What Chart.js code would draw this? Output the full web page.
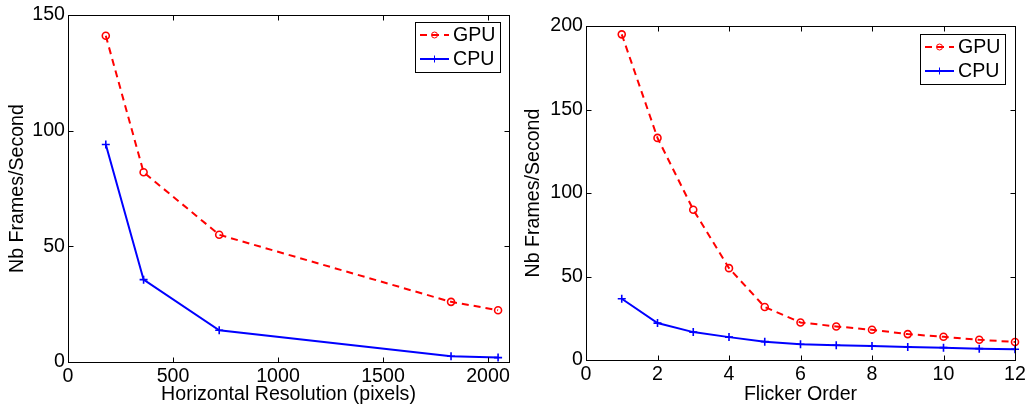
<!DOCTYPE html>
<html>
<head>
<meta charset="utf-8">
<script src="https://cdn.jsdelivr.net/npm/chart.js@4.4.1/dist/chart.umd.min.js"></script>
<style>
body { margin: 0; background: #fff; }
#wrap { display: flex; width: 1030px; height: 409px; }
canvas { display: block; }
</style>
</head>
<body>
<div id="wrap">
  <canvas id="resChart" width="520" height="409"></canvas>
  <canvas id="orderChart" width="510" height="409"></canvas>
</div>
<script>
// left plot: fps vs horizontal resolution
const resX = [180, 360, 720, 1824, 2048]
const resGpu = [141, 82, 55, 26, 22.4]
const resCpu = [94, 35.6, 13.7, 2.5, 1.9]
const resXTicks = [0, 500, 1000, 1500, 2000]
const resYTicks = [0, 50, 100, 150]

// right plot: fps vs flicker order
const orderX = [1, 2, 3, 4, 5, 6, 7, 8, 9, 10, 11, 12]
const orderGpu = [195, 133, 90, 55, 31.7, 22.5, 20.1, 18.1, 15.5, 13.9, 12.1, 10.8]
const orderCpu = [36.7, 22.1, 16.7, 13.7, 11, 9.4, 8.8, 8.4, 7.8, 7.4, 6.8, 6.4]
const orderXTicks = [0, 2, 4, 6, 8, 10, 12]
const orderYTicks = [0, 50, 100, 150, 200]

const FONT = '"Liberation Sans", Arial, sans-serif'
const FSIZE = 19.6
Chart.defaults.color = '#000'
Chart.defaults.font.family = FONT

const toPoints = (xs, ys) => xs.map((x, i) => ({ x: x, y: ys[i] }))

// matlab style box with inward ticks on all 4 sides
const boxTicks = {
  id: 'boxTicks',
  afterDatasetsDraw(chart) {
    const { ctx, chartArea: a, scales } = chart
    const L = Math.round(a.left) + 0.5, R = Math.round(a.right) + 0.5
    const T = Math.round(a.top) + 0.5, B = Math.round(a.bottom) + 0.5
    const len = 5
    ctx.save()
    ctx.strokeStyle = '#000'
    ctx.lineWidth = 1
    ctx.beginPath()
    scales.x.ticks.forEach(t => {
      const px = Math.round(scales.x.getPixelForValue(t.value)) + 0.5
      ctx.moveTo(px, B); ctx.lineTo(px, B - len)
      ctx.moveTo(px, T); ctx.lineTo(px, T + len)
    })
    scales.y.ticks.forEach(t => {
      const py = Math.round(scales.y.getPixelForValue(t.value)) + 0.5
      ctx.moveTo(L, py); ctx.lineTo(L + len, py)
      ctx.moveTo(R, py); ctx.lineTo(R - len, py)
    })
    ctx.stroke()
    ctx.strokeRect(L, T, R - L, B - T)
    ctx.restore()
  }
}

const boxLegend = {
  id: 'boxLegend',
  afterDraw(chart, args, opts) {
    const { ctx, chartArea: a } = chart
    const sets = chart.data.datasets
    ctx.save()
    ctx.font = FSIZE + 'px ' + FONT
    const tw = Math.max(...sets.map(d => ctx.measureText(d.label).width))
    const lineLen = 29, pad = 5, gap = 4, rowH = 24
    const w = Math.round(pad + lineLen + gap + tw + pad)
    const h = 50
    const x0 = Math.round(a.right - opts.right - w)
    const y0 = Math.round(a.top + opts.top)
    ctx.fillStyle = '#fff'
    ctx.fillRect(x0, y0, w, h)
    ctx.strokeStyle = '#000'
    ctx.lineWidth = 1
    ctx.strokeRect(x0 + 0.5, y0 + 0.5, w, h)
    sets.forEach((d, i) => {
      const cy = y0 + 13 + rowH * i
      const lx = x0 + pad
      ctx.save()
      ctx.strokeStyle = d.borderColor
      ctx.lineWidth = d.borderWidth
      ctx.setLineDash(d.borderDash || [])
      ctx.beginPath()
      ctx.moveTo(lx, cy); ctx.lineTo(lx + lineLen, cy)
      ctx.stroke()
      ctx.restore()
      ctx.save()
      ctx.strokeStyle = d.borderColor
      ctx.fillStyle = 'rgba(0,0,0,0)'
      Chart.helpers.drawPoint(ctx, {
        pointStyle: d.pointStyle, radius: d.pointRadius - 0.5,
        borderWidth: d.pointBorderWidth, rotation: 0
      }, lx + lineLen / 2, cy)
      ctx.restore()
      ctx.fillStyle = '#000'
      ctx.textBaseline = 'middle'
      ctx.fillText(d.label, lx + lineLen + gap, cy + 1)
    })
    ctx.restore()
  }
}

function gpuSet(pts) {
  return {
    label: 'GPU', data: pts, borderColor: '#ff0000', borderWidth: 2,
    borderDash: [7, 5], pointStyle: 'circle', pointRadius: 3.5,
    pointBorderWidth: 1.6, pointBackgroundColor: 'rgba(0,0,0,0)',
    pointBorderColor: '#ff0000', tension: 0, clip: false
  }
}
function cpuSet(pts) {
  return {
    label: 'CPU', data: pts, borderColor: '#0000ff', borderWidth: 2,
    pointStyle: 'cross', pointRadius: 4, pointBorderWidth: 1.6,
    pointBorderColor: '#0000ff', tension: 0, clip: false
  }
}

function makeChart(id, cfg) {
  return new Chart(document.getElementById(id), {
    type: 'line',
    data: { datasets: [gpuSet(cfg.gpu), cpuSet(cfg.cpu)] },
    options: {
      responsive: false,
      animation: false,
      layout: { padding: { left: 0, right: cfg.padRight, top: cfg.padTop, bottom: 0 } },
      plugins: {
        legend: { display: false },
        tooltip: { enabled: false },
        boxLegend: cfg.legend
      },
      scales: {
        x: {
          type: 'linear', min: cfg.xMin, max: cfg.xMax,
          grid: { display: false, drawTicks: false }, border: { display: false },
          afterBuildTicks: s => { s.ticks = cfg.xTicks.map(v => ({ value: v })) },
          afterFit: s => { s.height = cfg.xHeight },
          ticks: { font: { size: FSIZE }, padding: 3, maxRotation: 0, autoSkip: false, callback: v => String(v) },
          title: { display: true, text: cfg.xTitle, font: { size: FSIZE }, padding: { top: 0, bottom: 3 } }
        },
        y: {
          type: 'linear', min: cfg.yMin, max: cfg.yMax,
          grid: { display: false, drawTicks: false }, border: { display: false },
          afterBuildTicks: s => { s.ticks = cfg.yTicks.map(v => ({ value: v })) },
          afterFit: s => { s.width = cfg.yWidth },
          ticks: { font: { size: FSIZE }, padding: 3, callback: v => String(v) },
          title: { display: true, text: 'Nb Frames/Second', font: { size: FSIZE }, padding: { top: cfg.yTitlePad, bottom: 0 } }
        }
      }
    },
    plugins: [boxTicks, boxLegend]
  })
}

makeChart('resChart', {
  gpu: toPoints(resX, resGpu), cpu: toPoints(resX, resCpu),
  xMin: 0, xMax: 2100, yMin: 0, yMax: 150,
  xTicks: resXTicks, yTicks: resYTicks,
  xTitle: 'Horizontal Resolution (pixels)',
  padRight: 11, padTop: 15, xHeight: 47, yWidth: 68, yTitlePad: 6,
  legend: { right: 9, top: 7 }
})

makeChart('orderChart', {
  gpu: toPoints(orderX, orderGpu), cpu: toPoints(orderX, orderCpu),
  xMin: 0, xMax: 12, yMin: 0, yMax: 200,
  xTicks: orderXTicks, yTicks: orderYTicks,
  xTitle: 'Flicker Order',
  padRight: 15, padTop: 26, xHeight: 49, yWidth: 66, yTitlePad: 2,
  legend: { right: 10, top: 8 }
})
</script>
</body>
</html>
